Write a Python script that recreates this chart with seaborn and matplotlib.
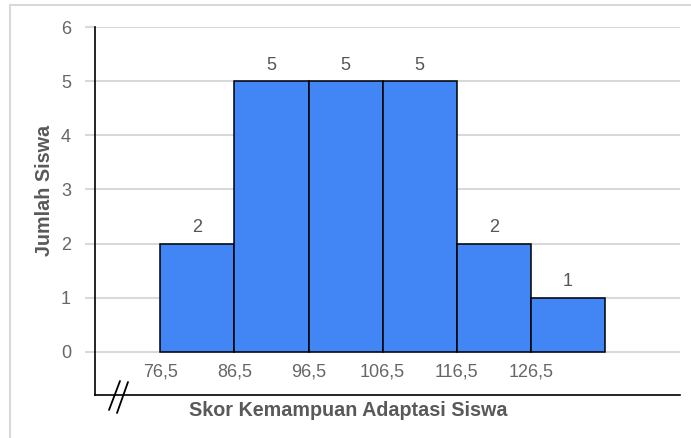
import numpy as np
import pandas as pd
import seaborn as sns
import matplotlib
matplotlib.use("Agg")
import matplotlib.pyplot as plt
from matplotlib.lines import Line2D
from matplotlib.patches import Rectangle

# ---- data ----
bin_edges = [76.5, 86.5, 96.5, 106.5, 116.5, 126.5, 136.5]
counts = [2, 5, 5, 5, 2, 1]
tick_labels = ["76,5", "86,5", "96,5", "106,5", "116,5", "126,5"]
y_ticks = [0, 1, 2, 3, 4, 5, 6]
x_title = "Skor Kemampuan Adaptasi Siswa"
y_title = "Jumlah Siswa"

midpoints = [(a + b) / 2 for a, b in zip(bin_edges[:-1], bin_edges[1:])]
df = pd.DataFrame({"skor": midpoints, "jumlah": counts})

sns.set_theme(style="white")
plt.rcParams["font.family"] = ["Liberation Sans", "DejaVu Sans"]

W, H = 691, 438
fig = plt.figure(figsize=(W / 100, H / 100), dpi=100)
L, R, T, B = 95, 680, 27, 395
ax = fig.add_axes([L / W, 1 - B / H, (R - L) / W, (B - T) / H])

sns.histplot(data=df, x="skor", weights="jumlah", bins=bin_edges,
             color="#4285F4", alpha=1, edgecolor="black", linewidth=1.1,
             ax=ax, zorder=3)

ax.set_xlim(67.7, 146.6)
ax.set_ylim(-0.796, 6)

grid_c = "#d9d9d9"
ax.set_yticks(y_ticks)
ax.yaxis.grid(True, color=grid_c, linewidth=1.5, zorder=0)
ax.xaxis.grid(False)
ax.tick_params(axis="y", which="both", left=True, length=7.2, width=1.5,
               color=grid_c, pad=10, labelsize=13, labelcolor="#666666")

ax.set_xticks(bin_edges[:-1])
ax.set_xticklabels(tick_labels)
ax.tick_params(axis="x", which="both", bottom=False, length=0, pad=-22.6,
               labelsize=13, labelcolor="#666666")

for s in ["top", "right"]:
    ax.spines[s].set_visible(False)
for s in ["left", "bottom"]:
    ax.spines[s].set_color("black")
    ax.spines[s].set_linewidth(1.2)
ax.spines["left"].set_zorder(4)

ax.bar_label(ax.containers[0], labels=[str(c) for c in counts], padding=5.5,
             fontsize=13, color="#555555")

ax.set_xlabel(x_title, fontsize=14.2, fontweight="bold", color="#595959")
ax.xaxis.set_label_coords((348 - L) / (R - L), -(401 - B) / (B - T))
ax.xaxis.label.set_va("top")
ax.set_ylabel(y_title, fontsize=14.2, fontweight="bold", color="#595959")
ax.yaxis.set_label_coords((54 - L) / (R - L), (B - 190) / (B - T))

# axis break mark
def px(x, y):
    return (x / W, 1 - y / H)

for (x0, y0, x1, y1) in [(109, 410, 120, 381), (117, 413, 128, 382)]:
    a, b = px(x0, y0)
    c, d = px(x1, y1)
    fig.add_artist(Line2D([a, c], [b, d], color="black", linewidth=1.3))

# figure frame
fx, fy = px(10, 5)
fig.add_artist(Rectangle((fx, -0.05), 1.1, fy + 0.05, fill=False,
                         edgecolor="#d9d9d9", linewidth=1.5,
                         transform=fig.transFigure))

fig.savefig("out.png", dpi=100)
